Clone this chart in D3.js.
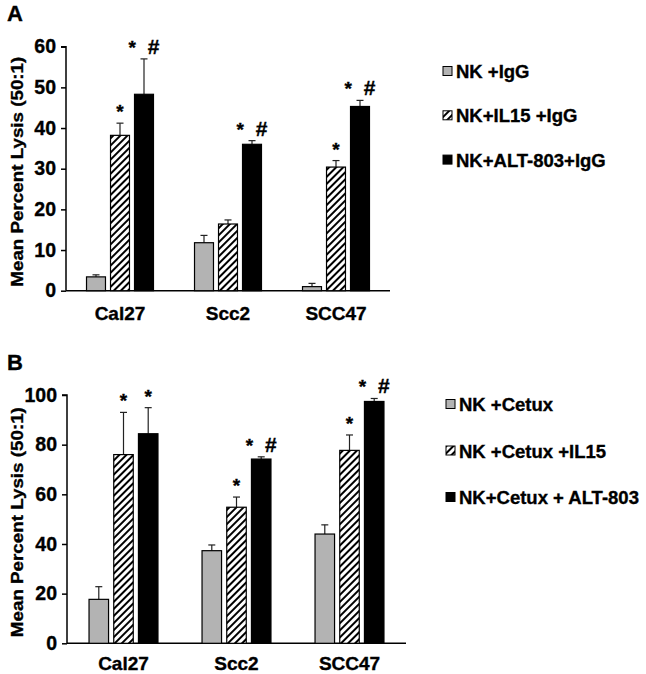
<!DOCTYPE html>
<html>
<head>
<meta charset="utf-8">
<script src="https://cdn.jsdelivr.net/npm/d3@7"></script>
<style>
  body { margin: 0; background: #fff; }
  svg text { font-family: "Liberation Sans", Arial, sans-serif; font-weight: bold;
             stroke: #000; stroke-width: 0.35px; }
</style>
</head>
<body>
<svg id="chart" width="646" height="674"></svg>
<script>
// cell lines, same for both panels
var categories = ["Cal27", "Scc2", "SCC47"];

// Panel A: IgG control
var seriesA = ["NK +IgG", "NK+IL15 +IgG", "NK+ALT-803+IgG"];
var valuesA = [[3.4, 11.8, 1.0], [38.2, 16.4, 30.4], [48.3, 36.0, 45.3]];
var errorsA = [[0.5, 1.8, 0.8], [3.0, 1.0, 1.6], [8.7, 0.9, 1.5]];
var marksA = [["", "", ""], ["*", "", "*"], ["* #", "* #", "* #"]];
var ticksA = [0, 10, 20, 30, 40, 50, 60];

// Panel B: Cetuximab
var seriesB = ["NK +Cetux", "NK +Cetux +IL15", "NK+Cetux + ALT-803"];
var valuesB = [[17.7, 37.3, 44.0], [76.0, 54.8, 77.7], [84.4, 74.2, 97.4]];
var errorsB = [[5.1, 2.3, 3.7], [17.0, 4.1, 6.2], [10.5, 0.9, 1.2]];
var marksB = [["", "", ""], ["*", "*", "*"], ["*", "* #", "* #"]];
var ticksB = [0, 20, 40, 60, 80, 100];

var svg = d3.select("#chart");
var fills = ["#b3b3b3", "url(#hatch)", "#000"];

// diagonal hatch for the IL15 bars
var pat = svg.append("defs").append("pattern")
    .attr("id", "hatch")
    .attr("patternUnits", "userSpaceOnUse")
    .attr("width", 5).attr("height", 5)
    .attr("patternTransform", "rotate(45)");
pat.append("rect").attr("width", 5).attr("height", 5).attr("fill", "#fff");
pat.append("rect").attr("width", 2).attr("height", 5).attr("fill", "#000");

var drawPanel = function (opt) {
    var g = svg.append("g");

    var x0 = d3.scaleBand().domain(categories)
        .range([opt.left, opt.right]).paddingInner(opt.pad).paddingOuter(opt.pad / 2);
    var x1 = d3.scaleBand().domain([0, 1, 2])
        .range([0, x0.bandwidth()]).paddingInner(0.21);
    var y = d3.scaleLinear().domain([0, opt.max]).range([opt.bottom, opt.top]);

    // panel letter
    g.append("text").attr("x", 7).attr("y", opt.letterY)
        .style("font-size", "22px").text(opt.letter);

    // y axis
    var yAxis = g.append("g")
        .attr("transform", "translate(" + opt.left + ",0)")
        .call(d3.axisLeft(y).tickValues(opt.ticks).tickSize(5).tickPadding(5));
    yAxis.select(".domain").attr("stroke-width", 1.5).attr("d",
        "M-5," + y(opt.max) + "H0V" + opt.bottom);
    yAxis.selectAll(".tick line").attr("stroke-width", 1.5);
    yAxis.selectAll(".tick text").style("font-size", "19.5px")
        .style("font-family", "'Liberation Sans', Arial, sans-serif")
        .style("font-weight", "bold").attr("fill", "#000");

    // x axis, line only
    g.append("line")
        .attr("x1", opt.left).attr("x2", opt.right)
        .attr("y1", opt.bottom).attr("y2", opt.bottom)
        .attr("stroke", "#000").attr("stroke-width", 1.5);

    g.selectAll(".cat").data(categories).enter().append("text")
        .attr("x", function (d) { return x0(d) + x0.bandwidth() / 2; })
        .attr("y", opt.bottom + opt.catGap)
        .attr("text-anchor", "middle")
        .style("font-size", "19px")
        .text(function (d) { return d; });

    // y title
    g.append("text")
        .attr("transform", "translate(23," + ((opt.top + opt.bottom) / 2 + 3) + ") rotate(-90)")
        .attr("text-anchor", "middle")
        .style("font-size", "17px")
        .attr("textLength", 230).attr("lengthAdjust", "spacingAndGlyphs")
        .text("Mean Percent Lysis (50:1)");

    // bars, error bars, significance marks
    opt.values.forEach(function (vals, s) {
        vals.forEach(function (v, c) {
            var bx = x0(categories[c]) + x1(s);
            var bw = x1.bandwidth();
            var cx = bx + bw / 2;
            var top = y(v + opt.errors[s][c]);
            g.append("line")
                .attr("x1", cx).attr("x2", cx)
                .attr("y1", y(v)).attr("y2", top)
                .attr("stroke", "#222").attr("stroke-width", 1.2);
            g.append("line")
                .attr("x1", cx - 3.5).attr("x2", cx + 3.5)
                .attr("y1", top).attr("y2", top)
                .attr("stroke", "#222").attr("stroke-width", 1.2);
            g.append("rect")
                .attr("x", bx).attr("y", y(v))
                .attr("width", bw).attr("height", opt.bottom - y(v))
                .attr("fill", fills[s]).attr("stroke", "#000").attr("stroke-width", 1.2);
            var m = opt.marks[s][c];
            if (m) {
                var t = g.append("text")
                    .attr("x", cx).attr("y", top - 5)
                    .attr("text-anchor", "middle")
                    .attr("xml:space", "preserve")
                    .style("font-size", "19px");
                t.append("tspan").text("*");
                if (m.indexOf("#") >= 0)
                    t.append("tspan").style("font-size", "21px").text("  #");
            }
        });
    });

    // legend
    opt.series.forEach(function (name, s) {
        var ly = opt.legendY + s * opt.legendGap;
        g.append("rect")
            .attr("x", opt.legendX).attr("y", ly - 5)
            .attr("width", 9).attr("height", 9)
            .attr("fill", fills[s]).attr("stroke", "#000").attr("stroke-width", 1);
        g.append("text")
            .attr("x", opt.legendX + 13).attr("y", ly + 6.5)
            .style("font-size", "18.5px")
            .text(name);
    });
};

drawPanel({
    letter: "A", letterY: 21,
    left: 66, right: 390, top: 46.7, bottom: 290.7, pad: 0.38, catGap: 29,
    max: 60, ticks: ticksA,
    values: valuesA, errors: errorsA, marks: marksA, series: seriesA,
    legendX: 443, legendY: 71.5, legendGap: 44.3
});

drawPanel({
    letter: "B", letterY: 370,
    left: 67, right: 406, top: 395, bottom: 643.3, pad: 0.39, catGap: 26.5,
    max: 100, ticks: ticksB,
    values: valuesB, errors: errorsB, marks: marksB, series: seriesB,
    legendX: 446, legendY: 404.5, legendGap: 46.5
});
</script>
</body>
</html>
